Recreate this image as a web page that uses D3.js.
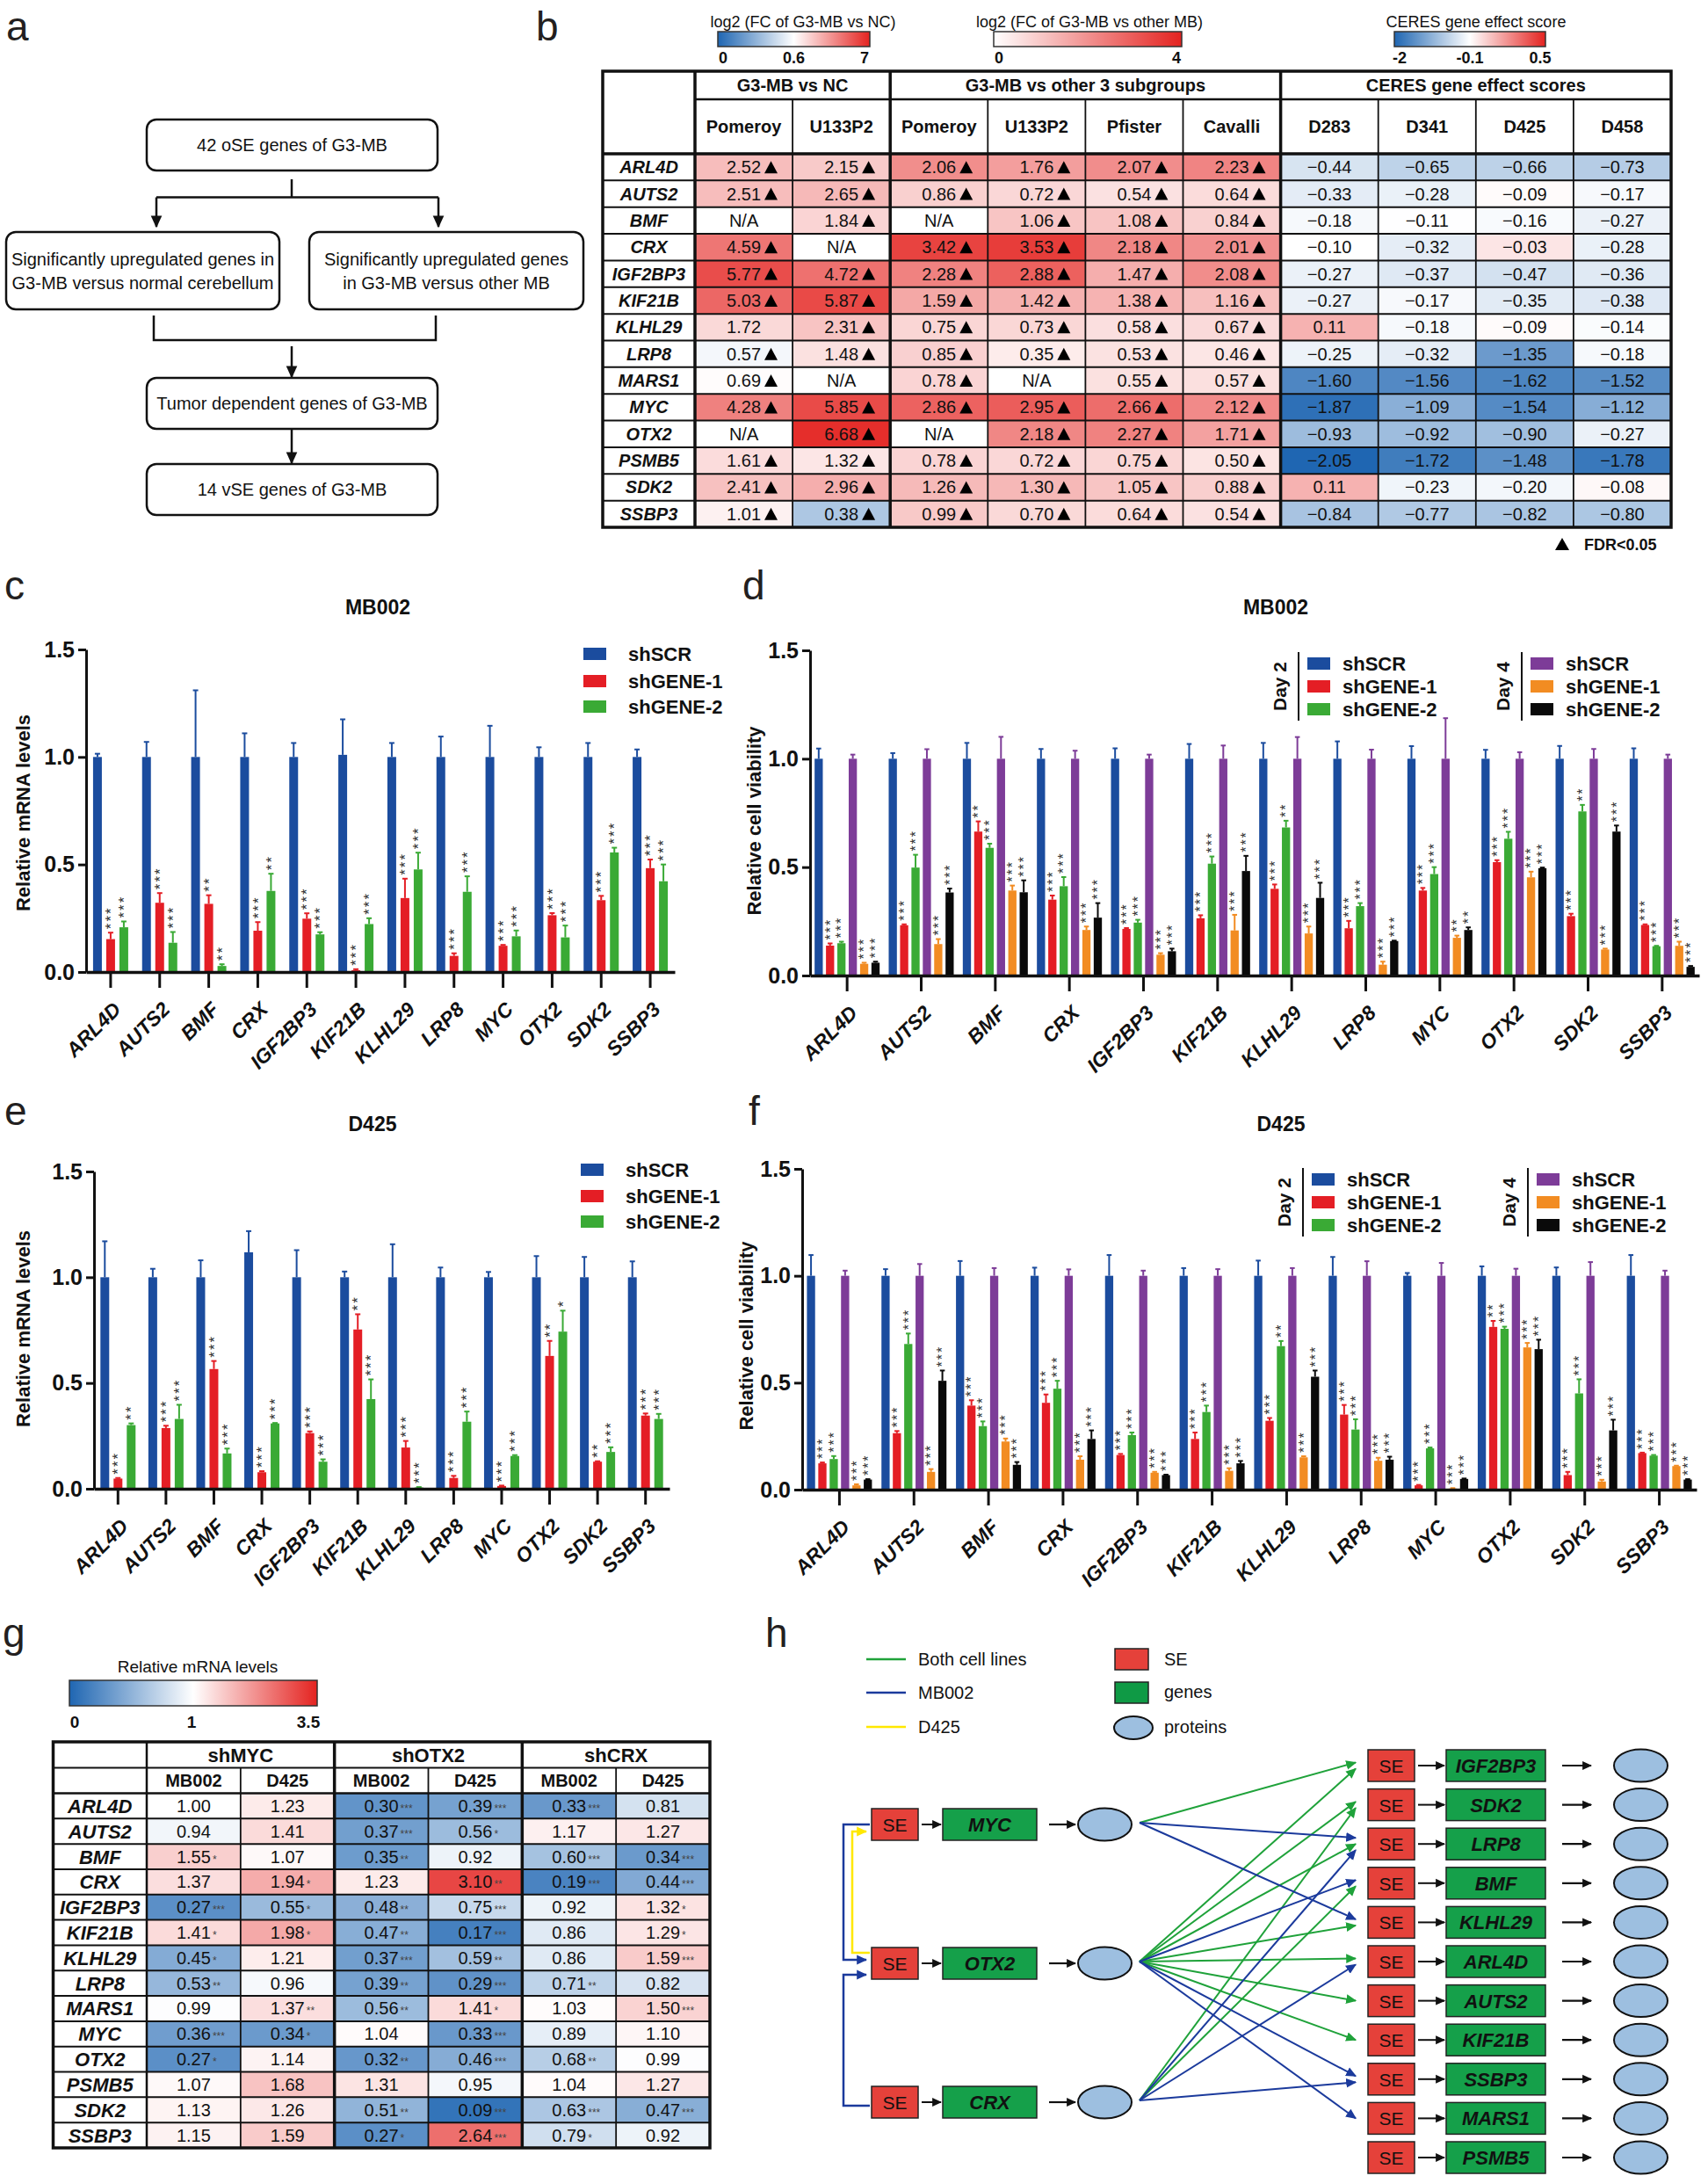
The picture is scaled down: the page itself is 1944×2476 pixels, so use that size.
<!DOCTYPE html>
<html><head><meta charset="utf-8">
<script src="https://cdn.jsdelivr.net/npm/d3@7/dist/d3.min.js"></script>
<style>
html,body{margin:0;padding:0;background:#fff;}
svg{display:block;}
text{font-family:"Liberation Sans",Arial,Helvetica,sans-serif;}
</style></head>
<body>
<svg id="fig" width="1944" height="2476" xmlns="http://www.w3.org/2000/svg"></svg>
<script>
// ======================= DATA =======================
// ---- panel b ----
const tableGenes = ["ARL4D","AUTS2","BMF","CRX","IGF2BP3","KIF21B","KLHL29","LRP8","MARS1","MYC","OTX2","PSMB5","SDK2","SSBP3"];
const ncPomeroy   = [2.52,2.51,null,4.59,5.77,5.03,1.72,0.57,0.69,4.28,null,1.61,2.41,1.01];
const ncPomeroyFDR= [1,1,0,1,1,1,0,1,1,1,0,1,1,1];
const ncU133P2    = [2.15,2.65,1.84,null,4.72,5.87,2.31,1.48,null,5.85,6.68,1.32,2.96,0.38];
const otherPomeroy= [2.06,0.86,null,3.42,2.28,1.59,0.75,0.85,0.78,2.86,null,0.78,1.26,0.99];
const otherU133P2 = [1.76,0.72,1.06,3.53,2.88,1.42,0.73,0.35,null,2.95,2.18,0.72,1.30,0.70];
const otherPfister= [2.07,0.54,1.08,2.18,1.47,1.38,0.58,0.53,0.55,2.66,2.27,0.75,1.05,0.64];
const otherCavalli= [2.23,0.64,0.84,2.01,2.08,1.16,0.67,0.46,0.57,2.12,1.71,0.50,0.88,0.54];
const ceresD283   = [-0.44,-0.33,-0.18,-0.10,-0.27,-0.27,0.11,-0.25,-1.60,-1.87,-0.93,-2.05,0.11,-0.84];
const ceresD341   = [-0.65,-0.28,-0.11,-0.32,-0.37,-0.17,-0.18,-0.32,-1.56,-1.09,-0.92,-1.72,-0.23,-0.77];
const ceresD425   = [-0.66,-0.09,-0.16,-0.03,-0.47,-0.35,-0.09,-1.35,-1.62,-1.54,-0.90,-1.48,-0.20,-0.82];
const ceresD458   = [-0.73,-0.17,-0.27,-0.28,-0.36,-0.38,-0.14,-0.18,-1.52,-1.12,-0.27,-1.78,-0.08,-0.80];
const bGroupLabels = ["G3-MB vs NC","G3-MB vs other 3 subgroups","CERES gene effect scores"];
const bColumnLabels = ["Pomeroy","U133P2","Pomeroy","U133P2","Pfister","Cavalli","D283","D341","D425","D458"];
const ncLegendTicks = [0,0.6,7];
const otherLegendTicks = [0,4];
const ceresLegendTicks = [-2,-0.1,0.5];

// ---- bar panels c-f ----
const barGenes = ["ARL4D","AUTS2","BMF","CRX","IGF2BP3","KIF21B","KLHL29","LRP8","MYC","OTX2","SDK2","SSBP3"];
const yTicks = [0,0.5,1.0,1.5];
// c : MB002 mRNA
const cSCR    = [1,1,1,1,1,1.01,1,1,1,1,1,1];
const cSCRerr = [0.015,0.07,0.31,0.11,0.065,0.165,0.065,0.095,0.145,0.045,0.065,0.035];
const cG1     = [0.153,0.322,0.317,0.192,0.248,0.008,0.344,0.075,0.122,0.264,0.334,0.483];
const cG1err  = [0.03,0.045,0.04,0.04,0.025,0.005,0.09,0.012,0.004,0.01,0.02,0.04];
const cG1sig  = ["***","***","**","***","***","***","***","***","***","***","***","***"];
const cG2     = [0.208,0.136,0.028,0.377,0.175,0.223,0.477,0.373,0.166,0.161,0.556,0.422];
const cG2err  = [0.027,0.05,0.008,0.08,0.01,0.027,0.078,0.072,0.027,0.055,0.022,0.078];
const cG2sig  = ["***","***","**","**","***","***","***","***","***","***","***","***"];
// d : MB002 viability
const dD2SCR    = [1,1,1,1,1,1,1,1,1,1,1,1];
const dD2SCRerr = [0.047,0.026,0.073,0.045,0.048,0.068,0.073,0.08,0.058,0.041,0.059,0.048];
const dD2G1     = [0.138,0.232,0.664,0.35,0.215,0.264,0.4,0.218,0.392,0.523,0.274,0.233];
const dD2G1err  = [0.01,0.004,0.047,0.019,0.004,0.014,0.02,0.034,0.012,0.009,0.011,0.003];
const dD2G1sig  = ["***","***","**","***","***","***","***","***","***","***","***","***"];
const dD2G2     = [0.149,0.498,0.589,0.412,0.244,0.516,0.683,0.32,0.468,0.631,0.757,0.135];
const dD2G2err  = [0.007,0.059,0.019,0.042,0.013,0.033,0.031,0.014,0.032,0.032,0.03,0.002];
const dD2G2sig  = ["***","***","***","***","***","***","**","***","***","***","**","***"];
const dD4SCR    = [1,1,1,1,1,1,1,1,1,1,1,1];
const dD4SCRerr = [0.019,0.044,0.101,0.037,0.019,0.061,0.10,0.042,0.187,0.03,0.045,0.019];
const dD4G1     = [0.054,0.145,0.392,0.21,0.096,0.208,0.194,0.05,0.174,0.453,0.12,0.137];
const dD4G1err  = [0.005,0.023,0.023,0.016,0.007,0.072,0.032,0.014,0.01,0.026,0.004,0.019];
const dD4G1sig  = ["***","***","***","***","***","***","***","***","**","***","***","***"];
const dD4G2     = [0.059,0.383,0.384,0.267,0.112,0.482,0.358,0.159,0.21,0.495,0.664,0.04];
const dD4G2err  = [0.005,0.018,0.055,0.067,0.012,0.07,0.07,0.002,0.012,0.003,0.028,0.004];
const dD4G2sig  = ["***","***","***","***","***","***","***","***","**","***","***","***"];
// e : D425 mRNA
const eSCR    = [1,1,1,1.118,1,1,1,1,1,1,1,1];
const eSCRerr = [0.17,0.04,0.08,0.10,0.128,0.027,0.156,0.046,0.025,0.10,0.096,0.075];
const eG1     = [0.048,0.287,0.566,0.078,0.263,0.753,0.195,0.051,0.013,0.628,0.128,0.346];
const eG1err  = [0.003,0.011,0.038,0.005,0.008,0.072,0.031,0.01,0.002,0.071,0.002,0.01];
const eG1sig  = ["***","***","***","***","***","**","***","***","***","**","**","***"];
const eG2     = [0.301,0.33,0.167,0.309,0.128,0.424,0.006,0.317,0.155,0.743,0.174,0.33];
const eG2err  = [0.008,0.067,0.023,0.002,0.011,0.093,0.002,0.048,0.004,0.099,0.022,0.024];
const eG2sig  = ["**","***","***","***","***","***","***","***","***","*","***","***"];
// f : D425 viability
const fD2SCR    = [1,1,1,1,1,1,1,1,1,1,1,1];
const fD2SCRerr = [0.097,0.031,0.069,0.038,0.097,0.036,0.071,0.088,0.013,0.044,0.039,0.097];
const fD2G1     = [0.123,0.264,0.393,0.406,0.162,0.237,0.322,0.351,0.02,0.761,0.068,0.171];
const fD2G1err  = [0.004,0.01,0.025,0.039,0.005,0.03,0.013,0.045,0.002,0.028,0.015,0.002];
const fD2G1sig  = ["***","***","***","***","***","***","***","***","***","**","***","***"];
const fD2G2     = [0.143,0.681,0.297,0.472,0.255,0.363,0.671,0.281,0.193,0.752,0.45,0.159];
const fD2G2err  = [0.014,0.049,0.022,0.037,0.012,0.03,0.024,0.048,0.004,0.01,0.066,0.003];
const fD2G2sig  = ["***","***","***","***","***","***","**","***","***","***","***","***"];
const fD4SCR    = [1,1,1,1,1,1,1,1,1,1,1,1];
const fD4SCRerr = [0.024,0.055,0.036,0.03,0.024,0.031,0.036,0.068,0.06,0.033,0.064,0.024];
const fD4G1     = [0.02,0.083,0.225,0.14,0.079,0.088,0.151,0.135,0.005,0.665,0.038,0.11];
const fD4G1err  = [0.005,0.013,0.014,0.016,0.004,0.012,0.005,0.014,0.002,0.021,0.008,0.002];
const fD4G1sig  = ["***","***","***","***","***","***","***","***","***","***","***","***"];
const fD4G2     = [0.047,0.509,0.116,0.237,0.068,0.123,0.528,0.14,0.05,0.657,0.277,0.047];
const fD4G2err  = [0.002,0.048,0.013,0.04,0.002,0.011,0.029,0.014,0.002,0.044,0.05,0.002];
const fD4G2sig  = ["***","***","***","***","***","***","***","***","***","***","***","***"];

// ---- panel g ----
const gGroupLabels = ["shMYC","shOTX2","shCRX"];
const gCellLines = ["MB002","D425"];
const gMycMB002     = [1.00,0.94,1.55,1.37,0.27,1.41,0.45,0.53,0.99,0.36,0.27,1.07,1.13,1.15];
const gMycMB002Sig  = ["","","*","","***","*","*","**","","***","*","","",""];
const gMycD425      = [1.23,1.41,1.07,1.94,0.55,1.98,1.21,0.96,1.37,0.34,1.14,1.68,1.26,1.59];
const gMycD425Sig   = ["","","","*","*","*","","","**","*","","","",""];
const gOtx2MB002    = [0.30,0.37,0.35,1.23,0.48,0.47,0.37,0.39,0.56,1.04,0.32,1.31,0.51,0.27];
const gOtx2MB002Sig = ["***","***","**","","**","**","***","**","**","","**","","**","*"];
const gOtx2D425     = [0.39,0.56,0.92,3.10,0.75,0.17,0.59,0.29,1.41,0.33,0.46,0.95,0.09,2.64];
const gOtx2D425Sig  = ["***","*","","**","***","***","**","***","*","***","***","","***","***"];
const gCrxMB002     = [0.33,1.17,0.60,0.19,0.92,0.86,0.86,0.71,1.03,0.89,0.68,1.04,0.63,0.79];
const gCrxMB002Sig  = ["***","","***","***","","","","**","","","**","","***","*"];
const gCrxD425      = [0.81,1.27,0.34,0.44,1.32,1.29,1.59,0.82,1.50,1.10,0.99,1.27,0.47,0.92];
const gCrxD425Sig   = ["","","***","***","*","*","***","","***","","","","***",""];
const gLegendTicks = [0,1,3.5];

// ---- panel h ----
const hRegulators = ["MYC","OTX2","CRX"];
const hTargets = ["IGF2BP3","SDK2","LRP8","BMF","KLHL29","ARL4D","AUTS2","KIF21B","SSBP3","MARS1","PSMB5"];
const hEdgesBoth  = [["MYC","IGF2BP3"],["OTX2","IGF2BP3"],["OTX2","SDK2"],["OTX2","LRP8"],["OTX2","KLHL29"],["OTX2","ARL4D"],["OTX2","AUTS2"],["OTX2","KIF21B"],["CRX","SDK2"],["CRX","BMF"]];
const hEdgesMB002 = [["MYC","LRP8"],["MYC","KLHL29"],["OTX2","BMF"],["OTX2","SSBP3"],["OTX2","MARS1"],["CRX","LRP8"],["CRX","ARL4D"],["CRX","SSBP3"]];
const hLinks = [["MYC","OTX2","MB002"],["OTX2","MYC","D425"],["CRX","OTX2","MB002"]];

// ======================= DRAWING =======================
const svg = d3.select("#fig");
const defs = svg.append("defs");
const BLUE = "#1f66b2", RED = "#e42320", WHITE = "#ffffff";

function txt(parent, x, y, s, o = {}) {
  const t = parent.append("text").attr("x", x).attr("y", y).text(s)
    .attr("font-size", o.size || 20)
    .attr("font-weight", o.weight || "normal")
    .attr("font-style", o.style || "normal")
    .attr("text-anchor", o.anchor || "start")
    .attr("fill", o.fill || "#111");
  if (o.transform) t.attr("transform", o.transform);
  if (o.ls) t.attr("letter-spacing", o.ls);
  return t;
}
function marker(id, color, size) {
  defs.append("marker").attr("id", id).attr("viewBox", "0 0 10 10")
    .attr("refX", 9).attr("refY", 5).attr("markerUnits", "userSpaceOnUse")
    .attr("markerWidth", size).attr("markerHeight", size).attr("orient", "auto")
    .append("path").attr("d", "M0,0.5 L10,5 L0,9.5 Z").attr("fill", color);
}
marker("mBlackA", "#111", 14);
marker("mBlack", "#111", 11);
marker("mGreen", "#1fa23a", 12);
marker("mBlue", "#1b3a9c", 12);
marker("mYellow", "#ffe800", 12);

// panel letters
[["a",7,46],["b",610,46],["c",5,682],["d",845,682],["e",5,1280],["f",852,1280],["g",3,1874],["h",871,1874]]
  .forEach(([l,x,y]) => txt(svg, x, y, l, {size: 46, fill: "#231f20"}));

// ---------------- panel a ----------------
(function(){
  const g = svg.append("g");
  const boxes = [
    {x:167,y:136,w:331,h:58,lines:["42 oSE genes of G3-MB"]},
    {x:7,y:264,w:311,h:88,lines:["Significantly upregulated genes in","G3-MB versus normal cerebellum"]},
    {x:352,y:264,w:312,h:88,lines:["Significantly upregulated genes","in G3-MB versus other MB"]},
    {x:167,y:430,w:331,h:58,lines:["Tumor dependent genes of G3-MB"]},
    {x:167,y:528,w:331,h:58,lines:["14 vSE genes of G3-MB"]}
  ];
  boxes.forEach(b => {
    g.append("rect").attr("x",b.x).attr("y",b.y).attr("width",b.w).attr("height",b.h)
      .attr("rx",11).attr("fill","#fff").attr("stroke","#111").attr("stroke-width",2.5);
    const cy = b.y + b.h/2;
    b.lines.forEach((l,i) => {
      const off = (i - (b.lines.length-1)/2) * 27;
      txt(g, b.x + b.w/2, cy + off + 7, l, {size: 20, anchor: "middle"});
    });
  });
  const st = {stroke:"#111","stroke-width":2.5, fill:"none"};
  const p = (d, arrow) => { const e = g.append("path").attr("d", d); Object.entries(st).forEach(([k,v])=>e.attr(k,v)); if (arrow) e.attr("marker-end","url(#mBlackA)"); };
  p("M332,204 V224.5");
  p("M178,224.5 H499");
  p("M178,224.5 V258", true);
  p("M499,224.5 V258", true);
  p("M175,359 V387 H496 V359");
  p("M332,394 V429", true);
  p("M332,489 V527", true);
})();

// ---------------- panel b ----------------
(function(){
  const g = svg.append("g");
  const ncScale = d3.scaleLinear().domain([0,0.6,7]).range([BLUE,WHITE,RED]).clamp(true);
  const otherScale = d3.scaleLinear().domain([0,4]).range([WHITE,RED]).clamp(true);
  const ceresScale = d3.scaleLinear().domain([-2,-0.1,0.5]).range([BLUE,WHITE,RED]).clamp(true);

  function legend(id, x0, x1, y0, h, ticks, title, titleX, stops) {
    const gr = defs.append("linearGradient").attr("id", id);
    stops.forEach(s => gr.append("stop").attr("offset", s[0]).attr("stop-color", s[1]));
    g.append("rect").attr("x",x0).attr("y",y0).attr("width",x1-x0).attr("height",h)
      .attr("fill",`url(#${id})`).attr("stroke","#333").attr("stroke-width",1.5);
    txt(g, titleX, 31, title, {size: 18, anchor: "middle"});
    const lx = d3.scalePoint().domain(ticks).range([x0+6, x1-6]);
    ticks.forEach(t => txt(g, lx(t), 72, String(t), {size: 18, weight: "bold", anchor: "middle"}));
  }
  legend("gNC", 817, 990, 36, 17, ncLegendTicks, "log2 (FC of G3-MB vs NC)", 914,
         [[0,BLUE],[0.5,WHITE],[1,RED]]);
  legend("gOther", 1131, 1345, 36, 17, otherLegendTicks, "log2 (FC of G3-MB vs other MB)", 1240,
         [[0,WHITE],[1,RED]]);
  legend("gCeres", 1587, 1759, 36, 17, ceresLegendTicks, "CERES gene effect score", 1680,
         [[0,BLUE],[0.5,WHITE],[1,RED]]);

  const L = 686, R = 1902, T = 81, H1 = 113, H2 = 175, B = 600, GC = 791;
  const cols = [
    {v: ncPomeroy, s: ncScale, fdr: ncPomeroyFDR},
    {v: ncU133P2, s: ncScale},
    {v: otherPomeroy, s: otherScale},
    {v: otherU133P2, s: otherScale},
    {v: otherPfister, s: otherScale},
    {v: otherCavalli, s: otherScale},
    {v: ceresD283, s: ceresScale, ceres: true},
    {v: ceresD341, s: ceresScale, ceres: true},
    {v: ceresD425, s: ceresScale, ceres: true},
    {v: ceresD458, s: ceresScale, ceres: true}
  ];
  const xc = d3.scaleBand().domain(d3.range(cols.length)).range([GC, R]);
  const yr = d3.scaleBand().domain(tableGenes).range([H2, B]);
  const fmt = d3.format(".2f");

  cols.forEach((c, ci) => {
    tableGenes.forEach((gene, ri) => {
      const v = c.v[ri];
      g.append("rect").attr("x", xc(ci)).attr("y", yr(gene)).attr("width", xc.bandwidth()).attr("height", yr.bandwidth())
        .attr("fill", v === null ? WHITE : c.s(v));
      const cx = xc(ci) + xc.bandwidth()/2, cy = yr(gene) + yr.bandwidth()/2 + 7;
      const t = txt(g, cx, cy, v === null ? "N/A" : fmt(v), {size: 20, anchor: "middle"});
      const flag = c.ceres ? false : (c.fdr ? c.fdr[ri] === 1 : v !== null);
      if (flag) {
        const w = t.node().getComputedTextLength();
        const tx = cx + w/2 + 4;
        g.append("path").attr("d", `M${tx},${cy} L${tx+15},${cy} L${tx+7.5},${cy-14} Z`).attr("fill","#000");
      }
    });
  });
  tableGenes.forEach(gene => txt(g, (L+GC)/2, yr(gene)+yr.bandwidth()/2+7, gene, {size:20, weight:"bold", style:"italic", anchor:"middle"}));
  const groupSpans = [[0,2],[2,6],[6,10]];
  groupSpans.forEach(([a,b],i) => {
    const x0 = xc(a), x1 = xc(b-1) + xc.bandwidth();
    txt(g, (x0+x1)/2, (T+H1)/2 + 7, bGroupLabels[i], {size:20, weight:"bold", anchor:"middle"});
  });
  bColumnLabels.forEach((l,i) => txt(g, xc(i)+xc.bandwidth()/2, (H1+H2)/2+7, l, {size:20, weight:"bold", anchor:"middle"}));
  const line = (x1,y1,x2,y2,w) => g.append("line").attr("x1",x1).attr("y1",y1).attr("x2",x2).attr("y2",y2).attr("stroke","#111").attr("stroke-width",w);
  tableGenes.forEach((gene,i) => { if (i>0) line(L, yr(gene), R, yr(gene), 2); });
  line(GC, H1, R, H1, 2.5);
  line(L, H2, R, H2, 3.5);
  d3.range(1, cols.length).forEach(i => {
    const thick = (i === 2 || i === 6);
    line(xc(i), thick ? T : H1, xc(i), B, thick ? 3.5 : 1.8);
  });
  line(GC, T, GC, B, 3.5);
  g.append("rect").attr("x",L).attr("y",T).attr("width",R-L).attr("height",B-T).attr("fill","none").attr("stroke","#111").attr("stroke-width",3.5);
  g.append("path").attr("d","M1770,626 L1786,626 L1778,612 Z").attr("fill","#000");
  txt(g, 1803, 626, "FDR<0.05", {size: 18, weight: "bold"});
})();

// ---------------- bar panels ----------------
function barPanel(cfg) {
  const g = svg.append("g");
  const x = d3.scaleBand().domain(barGenes).range([cfg.axisX, cfg.axisEnd]);
  const y = d3.scaleLinear().domain([0,1.5]).range([cfg.y0, cfg.y15]);
  const inner = d3.scaleBand().domain(d3.range(cfg.series.length)).range([-cfg.groupW/2, cfg.groupW/2]).paddingInner(cfg.pad);
  const bw = inner.bandwidth();
  cfg.series.forEach((s, si) => {
    const sg = g.append("g");
    const bx = d => x(d) + x.bandwidth()/2 + inner(si);
    sg.selectAll("rect").data(barGenes).join("rect")
      .attr("x", bx).attr("width", bw)
      .attr("y", (d,i) => y(s.v[i])).attr("height", (d,i) => y(0) - y(s.v[i]))
      .attr("fill", s.color);
    sg.selectAll("line.eb").data(barGenes).join("line").attr("class","eb")
      .attr("x1", d => bx(d)+bw/2).attr("x2", d => bx(d)+bw/2)
      .attr("y1", (d,i) => y(s.v[i])).attr("y2", (d,i) => y(s.v[i]+s.e[i]))
      .attr("stroke", s.color).attr("stroke-width", 2);
    sg.selectAll("line.cap").data(barGenes).join("line").attr("class","cap")
      .attr("x1", d => bx(d)+bw*0.2).attr("x2", d => bx(d)+bw*0.8)
      .attr("y1", (d,i) => y(s.v[i]+s.e[i])).attr("y2", (d,i) => y(s.v[i]+s.e[i]))
      .attr("stroke", s.color).attr("stroke-width", 2);
    if (s.sig) {
      sg.selectAll("text.sig").data(barGenes).join("text").attr("class","sig")
        .each(function(d,i){
          const cx = bx(d)+bw/2, yy = y(s.v[i]+s.e[i]) - 4;
          d3.select(this).attr("x", cx).attr("y", yy).attr("dy","0.36em")
            .attr("transform", `rotate(-90,${cx},${yy})`).text(s.sig[i]);
        })
        .attr("font-size", cfg.starSize).attr("fill", "#333").attr("letter-spacing", 2);
    }
  });
  const ya = g.append("g").attr("transform", `translate(${cfg.axisX},0)`)
    .call(d3.axisLeft(y).tickValues(yTicks).tickFormat(d3.format(".1f")).tickSize(9).tickSizeOuter(0).tickPadding(4));
  ya.select(".domain").attr("stroke-width", 3).attr("stroke", "#111");
  ya.selectAll(".tick line").attr("stroke-width", 3).attr("stroke", "#111");
  ya.selectAll(".tick text").attr("font-size", 25).attr("font-weight", "bold").attr("fill", "#111")
    .attr("font-family", "'Liberation Sans',Arial,sans-serif");
  const xa = g.append("g").attr("transform", `translate(0,${cfg.y0})`)
    .call(d3.axisBottom(x).tickSize(18).tickSizeOuter(0));
  xa.select(".domain").attr("stroke-width", 3.5).attr("stroke", "#111");
  xa.selectAll(".tick line").attr("stroke-width", 3).attr("stroke", "#111");
  xa.selectAll(".tick text").attr("x", 0).attr("y", 0).attr("dy", 0)
    .attr("transform", "translate(13,44) rotate(-45)").style("text-anchor", "end")
    .attr("font-size", 23).attr("font-weight", "bold").attr("font-style", "italic").attr("fill", "#111")
    .attr("font-family", "'Liberation Sans',Arial,sans-serif");
  txt(g, cfg.titleX, cfg.titleY, cfg.title, {size: 23, weight: "bold", anchor: "middle"});
  txt(g, 0, 0, cfg.ylabel, {size: 22, weight: "bold", anchor: "middle", transform: `translate(${cfg.ylabX},${cfg.ylabY}) rotate(-90)`});
  const lg = cfg.legend;
  if (lg.type === "simple") {
    cfg.series.forEach((s,i) => {
      g.append("rect").attr("x", lg.x).attr("y", lg.ys[i]).attr("width", 26).attr("height", 14).attr("fill", s.color);
      txt(g, lg.x + 51, lg.ys[i] + 15, s.name, {size: 22, weight: "bold"});
    });
  } else {
    [[0,lg.x1,"Day 2"],[3,lg.x2,"Day 4"]].forEach(([start, lx, day]) => {
      txt(g, 0, 0, day, {size: 21, weight: "bold", anchor: "middle", transform: `translate(${lx-6},${lg.ys[1]+7}) rotate(-90)`});
      g.append("line").attr("x1", lx+8).attr("x2", lx+8).attr("y1", lg.ys[0]-6).attr("y2", lg.ys[2]+20).attr("stroke","#111").attr("stroke-width",2);
      [0,1,2].forEach(k => {
        const s = cfg.series[start+k];
        g.append("rect").attr("x", lx+18).attr("y", lg.ys[k]).attr("width", 26).attr("height", 14).attr("fill", s.color);
        txt(g, lx + 58, lg.ys[k] + 15, s.name, {size: 22, weight: "bold"});
      });
    });
  }
}
const C_SCR = "#1b4c9e", C_G1 = "#e41e25", C_G2 = "#3aaa35", C_SCR4 = "#7d3c98", C_G14 = "#f28c22", C_G24 = "#0a0a0a";

barPanel({axisX: 98, axisEnd: 768, y0: 1106, y15: 739, groupW: 40, pad: 1/3, starSize: 17,
  title: "MB002", titleX: 430, titleY: 699, ylabel: "Relative mRNA levels", ylabX: 34, ylabY: 925,
  legend: {type: "simple", x: 664, ys: [737, 768, 797]},
  series: [
    {name: "shSCR", v: cSCR, e: cSCRerr, color: C_SCR},
    {name: "shGENE-1", v: cG1, e: cG1err, sig: cG1sig, color: C_G1},
    {name: "shGENE-2", v: cG2, e: cG2err, sig: cG2sig, color: C_G2}
  ]});
barPanel({axisX: 922, axisEnd: 1934, y0: 1110, y15: 740, groupW: 74, pad: 0.28, starSize: 16,
  title: "MB002", titleX: 1452, titleY: 699, ylabel: "Relative cell viability", ylabX: 866, ylabY: 934,
  legend: {type: "day", x1: 1470, x2: 1724, ys: [748, 774, 800]},
  series: [
    {name: "shSCR", v: dD2SCR, e: dD2SCRerr, color: C_SCR},
    {name: "shGENE-1", v: dD2G1, e: dD2G1err, sig: dD2G1sig, color: C_G1},
    {name: "shGENE-2", v: dD2G2, e: dD2G2err, sig: dD2G2sig, color: C_G2},
    {name: "shSCR", v: dD4SCR, e: dD4SCRerr, color: C_SCR4},
    {name: "shGENE-1", v: dD4G1, e: dD4G1err, sig: dD4G1sig, color: C_G14},
    {name: "shGENE-2", v: dD4G2, e: dD4G2err, sig: dD4G2sig, color: C_G24}
  ]});
barPanel({axisX: 107, axisEnd: 762, y0: 1694, y15: 1333, groupW: 40, pad: 1/3, starSize: 17,
  title: "D425", titleX: 424, titleY: 1287, ylabel: "Relative mRNA levels", ylabX: 34, ylabY: 1512,
  legend: {type: "simple", x: 661, ys: [1324, 1354, 1383]},
  series: [
    {name: "shSCR", v: eSCR, e: eSCRerr, color: C_SCR},
    {name: "shGENE-1", v: eG1, e: eG1err, sig: eG1sig, color: C_G1},
    {name: "shGENE-2", v: eG2, e: eG2err, sig: eG2sig, color: C_G2}
  ]});
barPanel({axisX: 913, axisEnd: 1931, y0: 1695, y15: 1330, groupW: 74, pad: 0.28, starSize: 16,
  title: "D425", titleX: 1458, titleY: 1287, ylabel: "Relative cell viability", ylabX: 857, ylabY: 1520,
  legend: {type: "day", x1: 1475, x2: 1731, ys: [1335, 1361, 1387]},
  series: [
    {name: "shSCR", v: fD2SCR, e: fD2SCRerr, color: C_SCR},
    {name: "shGENE-1", v: fD2G1, e: fD2G1err, sig: fD2G1sig, color: C_G1},
    {name: "shGENE-2", v: fD2G2, e: fD2G2err, sig: fD2G2sig, color: C_G2},
    {name: "shSCR", v: fD4SCR, e: fD4SCRerr, color: C_SCR4},
    {name: "shGENE-1", v: fD4G1, e: fD4G1err, sig: fD4G1sig, color: C_G14},
    {name: "shGENE-2", v: fD4G2, e: fD4G2err, sig: fD4G2sig, color: C_G24}
  ]});

// ---------------- panel g ----------------
(function(){
  const g = svg.append("g");
  const scale = d3.scaleLinear().domain([0,1,3.5]).range([BLUE,WHITE,RED]).clamp(true);
  const gr = defs.append("linearGradient").attr("id","gG");
  [[0,BLUE],[0.5,WHITE],[1,RED]].forEach(s => gr.append("stop").attr("offset",s[0]).attr("stop-color",s[1]));
  g.append("rect").attr("x",79).attr("y",1912).attr("width",282).attr("height",29).attr("fill","url(#gG)").attr("stroke","#333").attr("stroke-width",1.5);
  txt(g, 225, 1903, "Relative mRNA levels", {size: 19, anchor: "middle"});
  const lx = d3.scalePoint().domain(gLegendTicks).range([85, 351]);
  gLegendTicks.forEach(t => txt(g, lx(t), 1966, String(t), {size: 19, weight: "bold", anchor: "middle"}));

  const L = 60.5, R = 808, T = 1982, H1 = 2011.5, H2 = 2040.5, B = 2444, GC = 167;
  const cols = [
    {v: gMycMB002, s: gMycMB002Sig}, {v: gMycD425, s: gMycD425Sig},
    {v: gOtx2MB002, s: gOtx2MB002Sig}, {v: gOtx2D425, s: gOtx2D425Sig},
    {v: gCrxMB002, s: gCrxMB002Sig}, {v: gCrxD425, s: gCrxD425Sig}
  ];
  const xc = d3.scaleBand().domain(d3.range(cols.length)).range([GC, R]);
  const yr = d3.scaleBand().domain(tableGenes).range([H2, B]);
  const fmt = d3.format(".2f");
  cols.forEach((c, ci) => {
    tableGenes.forEach((gene, ri) => {
      const v = c.v[ri];
      g.append("rect").attr("x", xc(ci)).attr("y", yr(gene)).attr("width", xc.bandwidth()).attr("height", yr.bandwidth()).attr("fill", scale(v));
      const cx = xc(ci) + xc.bandwidth()/2, cy = yr(gene) + yr.bandwidth()/2 + 7;
      const t = txt(g, cx, cy, fmt(v), {size: 20, anchor: "middle"});
      if (c.s[ri]) {
        const w = t.node().getComputedTextLength();
        txt(g, cx + w/2 + 2, cy, c.s[ri], {size: 12, fill: "#444"});
      }
    });
  });
  tableGenes.forEach(gene => txt(g, (L+GC)/2, yr(gene)+yr.bandwidth()/2+8, gene, {size: 22, weight: "bold", style: "italic", anchor: "middle"}));
  gGroupLabels.forEach((l,i) => {
    const x0 = xc(2*i), x1 = xc(2*i+1) + xc.bandwidth();
    txt(g, (x0+x1)/2, (T+H1)/2 + 8, l, {size: 22, weight: "bold", anchor: "middle"});
  });
  d3.range(cols.length).forEach(i => txt(g, xc(i)+xc.bandwidth()/2, (H1+H2)/2+7, gCellLines[i%2], {size: 20, weight: "bold", anchor: "middle"}));
  const line = (x1,y1,x2,y2,w) => g.append("line").attr("x1",x1).attr("y1",y1).attr("x2",x2).attr("y2",y2).attr("stroke","#111").attr("stroke-width",w);
  tableGenes.forEach((gene,i) => { if (i>0) line(L, yr(gene), R, yr(gene), 2); });
  line(L, H1, R, H1, 2);
  line(L, H2, R, H2, 2.5);
  d3.range(1, cols.length).forEach(i => {
    const thick = (i % 2 === 0);
    line(xc(i), thick ? T : H1, xc(i), B, thick ? 3.5 : 1.8);
  });
  line(GC, T, GC, B, 2.5);
  g.append("rect").attr("x",L).attr("y",T).attr("width",R-L).attr("height",B-T).attr("fill","none").attr("stroke","#111").attr("stroke-width",3.5);
})();

// ---------------- panel h ----------------
(function(){
  const g = svg.append("g");
  const GREEN = "#1fa23a", NBLUE = "#1b3a9c", YEL = "#ffe800";
  const SEC = "#e5413a", GENEC = "#15a04a", PROT = "#9dbfe0";
  [[GREEN,"Both cell lines",1888],[NBLUE,"MB002",1926],[YEL,"D425",1965]].forEach(([c,l,y]) => {
    g.append("line").attr("x1",986).attr("x2",1031).attr("y1",y).attr("y2",y).attr("stroke",c).attr("stroke-width",2.5);
    txt(g, 1045, y+7, l, {size: 20});
  });
  g.append("rect").attr("x",1269).attr("y",1876).attr("width",38).attr("height",24).attr("fill",SEC).attr("stroke","#222").attr("stroke-width",1.5);
  txt(g, 1325, 1895, "SE", {size: 20});
  g.append("rect").attr("x",1269).attr("y",1914).attr("width",38).attr("height",24).attr("fill","#0f9a45").attr("stroke","#222").attr("stroke-width",1.5);
  txt(g, 1325, 1932, "genes", {size: 20});
  g.append("ellipse").attr("cx",1290).attr("cy",1966).attr("rx",22).attr("ry",13).attr("fill",PROT).attr("stroke","#111").attr("stroke-width",2);
  txt(g, 1325, 1972, "proteins", {size: 20});

  const yl = d3.scalePoint().domain(hRegulators).range([2076, 2392]);
  const yt = d3.scalePoint().domain(hTargets).range([2009, 2455]);

  function row(y, seX, geneX, geneW, ellX, a1, a2, name) {
    g.append("rect").attr("x",seX).attr("y",y-18).attr("width",53).attr("height",36).attr("fill",SEC).attr("stroke","#222").attr("stroke-width",1.5);
    txt(g, seX+26.5, y+8, "SE", {size: 21, anchor: "middle"});
    g.append("line").attr("x1",seX+57).attr("x2",geneX-2).attr("y1",y).attr("y2",y).attr("stroke","#111").attr("stroke-width",2).attr("marker-end","url(#mBlack)");
    g.append("rect").attr("x",geneX).attr("y",y-18).attr("width",geneW).attr("height",36).attr("fill",GENEC).attr("stroke","#222").attr("stroke-width",1.5);
    txt(g, geneX+geneW/2, y+8, name, {size: 22, weight: "bold", style: "italic", anchor: "middle"});
    g.append("line").attr("x1",a1).attr("x2",a2).attr("y1",y).attr("y2",y).attr("stroke","#111").attr("stroke-width",2.2).attr("marker-end","url(#mBlack)");
    g.append("ellipse").attr("cx",ellX).attr("cy",y).attr("rx",30.5).attr("ry",18.5).attr("fill",PROT).attr("stroke","#111").attr("stroke-width",2);
  }
  hRegulators.forEach(r => row(yl(r), 992, 1073, 107, 1257.5, 1194, 1224, r));
  hTargets.forEach(t => row(yt(t), 1557, 1646, 113, 1867.5, 1778, 1811, t));

  const edges = hEdgesBoth.map(e => ({s:e[0], t:e[1], c:"both"})).concat(hEdgesMB002.map(e => ({s:e[0], t:e[1], c:"mb"})));
  const byT = d3.group(edges, e => e.t);
  byT.forEach((arr) => {
    arr.sort((a,b) => hRegulators.indexOf(a.s) - hRegulators.indexOf(b.s));
    arr.forEach((e,i) => { e.off = (i - (arr.length-1)/2) * 7; });
  });
  edges.forEach(e => {
    const col = e.c === "both" ? GREEN : NBLUE;
    g.append("line").attr("x1", 1297).attr("y1", yl(e.s) - 2).attr("x2", 1543).attr("y2", yt(e.t) + e.off)
      .attr("stroke", col).attr("stroke-width", 2).attr("marker-end", e.c === "both" ? "url(#mGreen)" : "url(#mBlue)");
  });
  const linkPaths = {
    "MYC>OTX2": `M990,${yl("MYC")} H960 V${yl("OTX2")-4} H986`,
    "OTX2>MYC": `M990,${yl("OTX2")-12} H970 V${yl("MYC")+8} H986`,
    "CRX>OTX2": `M990,${yl("CRX")+4} H960 V${yl("OTX2")+13} H986`
  };
  hLinks.forEach(([a,b,c]) => {
    const col = c === "D425" ? YEL : NBLUE;
    g.append("path").attr("d", linkPaths[`${a}>${b}`]).attr("fill","none").attr("stroke",col).attr("stroke-width",2.5)
      .attr("marker-end", c === "D425" ? "url(#mYellow)" : "url(#mBlue)");
  });
})();
</script>
</body></html>
